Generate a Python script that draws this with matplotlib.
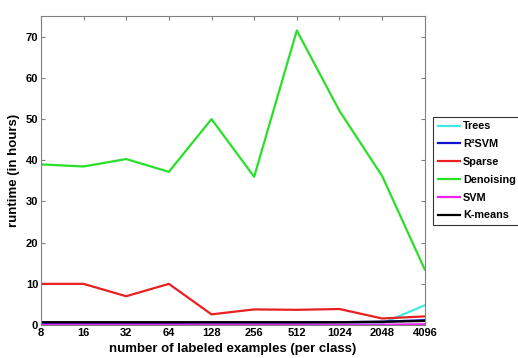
import matplotlib
matplotlib.use("Agg")
import matplotlib.pyplot as plt
import numpy as np

# ── data ──────────────────────────────────────────────────────────────────────
N_LABELED = [8, 16, 32, 64, 128, 256, 512, 1024, 2048, 4096]
TREES     = [0.3, 0.3, 0.3, 0.3, 0.3, 0.3, 0.3, 0.3, 0.4, 4.8]
R2SVM     = [0.5, 0.5, 0.5, 0.5, 0.6, 0.6, 0.6, 0.7, 0.8, 1.2]
SPARSE    = [10.0, 10.0, 7.0, 10.0, 2.6, 3.8, 3.7, 3.9, 1.6, 2.1]
DENOISING = [39.0, 38.5, 40.3, 37.2, 50.0, 36.0, 71.5, 52.0, 36.2, 13.5]
SVM       = [0.1, 0.1, 0.1, 0.1, 0.1, 0.1, 0.1, 0.1, 0.1, 0.2]
KMEANS    = [0.7, 0.7, 0.7, 0.7, 0.7, 0.7, 0.7, 0.7, 0.8, 1.0]

SERIES = [
    ("Trees",     TREES,     "#40e8e8"),
    ("R²SVM",     R2SVM,     "#1010d0"),
    ("Sparse",    SPARSE,    "#e82020"),
    ("Denoising", DENOISING, "#28e028"),
    ("SVM",       SVM,       "#f020f0"),
    ("K-means",   KMEANS,    "#000000"),
]

plt.rcParams["font.family"] = ["Liberation Sans", "DejaVu Sans"]
plt.rcParams["font.weight"] = "bold"

fig = plt.figure(figsize=(5.18, 3.58), dpi=100)
ax = fig.add_axes([0.079, 0.092, 0.741, 0.863])

xpos = np.log2(N_LABELED)
for name, vals, col in SERIES:
    ax.plot(xpos, vals, color=col, lw=1.6, label=name)

ax.set_xlim(xpos[0], xpos[-1])
ax.set_ylim(0, 75)
ax.set_xticks(xpos)
ax.set_xticklabels([str(n) for n in N_LABELED])
ax.set_yticks(range(0, 71, 10))
ax.tick_params(direction="in", top=True, right=True, labelsize=8, length=3,
               color="#808080", pad=2)
for lbl in ax.get_xticklabels() + ax.get_yticklabels():
    lbl.set_fontweight("bold")
for s in ax.spines.values():
    s.set_color("#808080")

ax.set_xlabel("number of labeled examples (per class)", fontsize=9.5,
              fontweight="bold", labelpad=4)
ax.set_ylabel("runtime (in hours)", fontsize=9.5, fontweight="bold", labelpad=4)

leg = ax.legend(loc="upper left", bbox_to_anchor=(1.021, 0.675), fontsize=7.8,
                frameon=True, fancybox=False, borderaxespad=0,
                handlelength=2.1, handletextpad=0.25, labelspacing=0.72,
                borderpad=0.45)
leg.get_frame().set_edgecolor("black")
leg.get_frame().set_linewidth(0.8)
for t in leg.get_texts():
    t.set_fontweight("bold")

fig.savefig("out.png", dpi=100)
